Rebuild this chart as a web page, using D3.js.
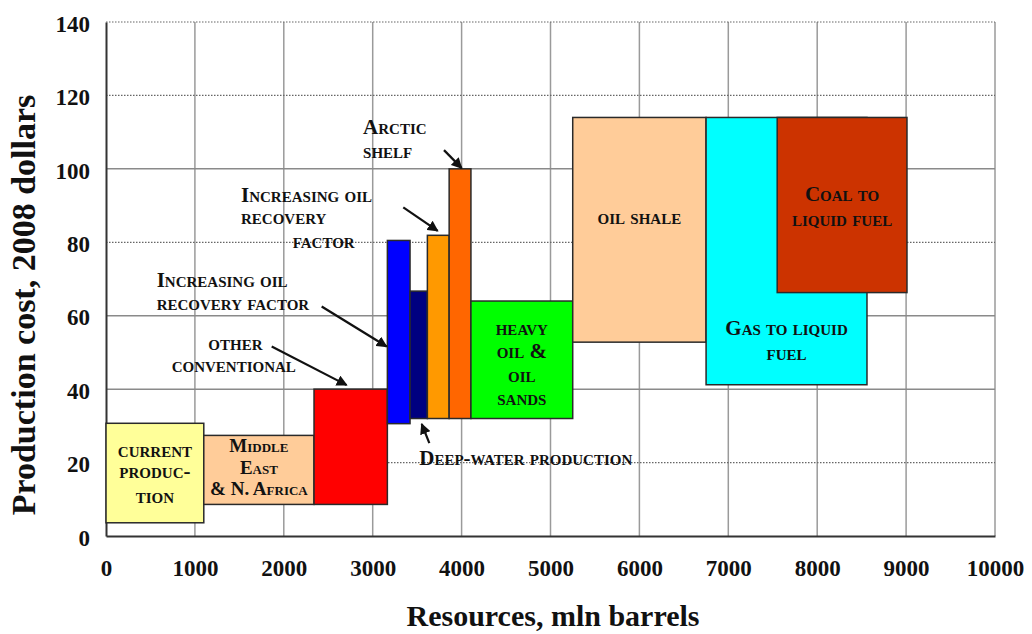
<!DOCTYPE html>
<html>
<head>
<meta charset="utf-8">
<script src="https://cdn.jsdelivr.net/npm/d3@7"></script>
<style>
html,body{margin:0;padding:0;background:#fff;}
svg{display:block;}
svg text{font-family:"Liberation Serif","Times New Roman",Times,"DejaVu Serif","Noto Serif",serif !important;font-weight:bold;fill:#111;}
.lbl{font-variant:small-caps;font-size:21px;}
</style>
</head>
<body>
<svg id="chart" width="1032" height="634" font-family="Liberation Serif"></svg>
<script>
// ---- data ----
const categories = ["Current production","Middle East & N. Africa","Other conventional","Increasing oil recovery factor","Deep-water production","Increasing oil recovery factor ","Arctic shelf","Heavy oil & oil sands","Oil shale","Gas to liquid fuel","Coal to liquid fuel"];
const resourceStart = [0, 1100, 2340, 3165, 3420, 3615, 3860, 4105, 5250, 6750, 7550];
const resourceEnd   = [1100, 2340, 3165, 3420, 3615, 3860, 4105, 5250, 6750, 8560, 9010];
const costLow  = [3.6, 8.6, 8.6, 30.6, 32, 32, 32, 32, 52.8, 41.2, 66.3];
const costHigh = [30.7, 27.4, 40, 80.5, 66.7, 81.9, 100, 64, 114, 114, 114];
const colors = ["#FFFF99","#FFCC99","#FF0000","#0000FF","#000080","#FF9900","#FF6600","#00FF00","#FFCC99","#00FFFF","#CC3300"];
const xTicks = [0,1000,2000,3000,4000,5000,6000,7000,8000,9000,10000];
const yTicks = [0,20,40,60,80,100,120,140];
const yDotted = [20,80,120,140];

// labels inside boxes: [box index, lines, baseline values (cost units), font size]
const boxLabels = [
  [0, ["current","produc-","tion"], [21.6,15.7,8.9], 21],
  [1, ["Middle","East","& N. Africa"], [23,16.9,11.2], 19],
  [7, ["heavy","oil &","oil","sands"], [54.8,48.4,42,35.7], 21],
  [8, ["oil shale"], [85], 21],
  [10, ["Coal to","liquid fuel"], [91.3,84.4], 21],
  [9, ["Gas to liquid","fuel"], [54.8,47.9], 21]
];
// free annotations: text, resource, cost (baseline, start anchored)
const noteText = ["Arctic","shelf","Increasing oil","recovery","factor","Increasing oil","recovery factor","other","conventional","Deep-water production"];
const noteRes  = [2892, 2892, 1519, 1519, 2100, 570, 570, 1151, 739, 3524];
const noteCost = [109.4, 102.9, 91.1, 84.9, 78.4, 67.9, 61.6, 50.7, 44.6, 19.3];
// arrows: from (res,cost) to (res,cost)
const arrowFrom = [[3802,105.1],[3344,89.5],[2426,62.5],[1864,51.6],[3637,25.3]];
const arrowTo   = [[4001,100.2],[3731,83.1],[3157,51.6],[2707,41.1],[3551,30.5]];

// ---- drawing ----
const svg = d3.select("#chart");
const x = d3.scaleLinear().domain([0,10000]).range([106,995]);
const y = d3.scaleLinear().domain([0,140]).range([536,22]);

// grid
const g = svg.append("g");
g.selectAll("line.vg").data(xTicks.slice(1)).join("line")
  .attr("x1",d=>x(d)).attr("x2",d=>x(d)).attr("y1",y(140)).attr("y2",y(0))
  .attr("stroke","#9a9a9a").attr("stroke-width",1.5);
g.selectAll("line.hg").data(yTicks.slice(1)).join("line")
  .attr("x1",x(0)).attr("x2",x(10000)).attr("y1",d=>y(d)).attr("y2",d=>y(d))
  .attr("stroke",d=>yDotted.includes(d)?"#666":"#8a8a8a")
  .attr("stroke-width",d=>yDotted.includes(d)?1.2:1.5)
  .attr("stroke-dasharray",d=>yDotted.includes(d)?"1.5,1.5":null);

// axes
const yAxis = d3.axisLeft(y).tickValues(yTicks).tickSize(0).tickPadding(16).tickFormat(d3.format("d"));
const xAxis = d3.axisBottom(x).tickValues(xTicks).tickSize(0).tickPadding(24).tickFormat(d3.format("d"));
const ya = svg.append("g").attr("transform",`translate(${x(0)},0)`).call(yAxis);
const xa = svg.append("g").attr("transform",`translate(0,${y(0)})`).call(xAxis);
[ya,xa].forEach(a=>{
  a.attr("font-family",null).attr("font-size",null);
  a.select(".domain").attr("stroke","#333").attr("stroke-width",2);
  a.selectAll("text").attr("font-size",23).attr("fill","#111");
});
ya.selectAll("text").attr("dy","0.4em");

// bars
const idx = d3.range(categories.length);
svg.append("g").selectAll("rect").data(idx).join("rect")
  .attr("x",i=>x(resourceStart[i])).attr("width",i=>x(resourceEnd[i])-x(resourceStart[i]))
  .attr("y",i=>y(costHigh[i])).attr("height",i=>y(costLow[i])-y(costHigh[i]))
  .attr("fill",i=>colors[i]).attr("stroke","#2a2a2a").attr("stroke-width",1.5);

// box labels
boxLabels.forEach(([i,lines,ys,fs])=>{
  const cx = (x(resourceStart[i])+x(resourceEnd[i]))/2;
  lines.forEach((t,k)=>{
    svg.append("text").attr("class","lbl").attr("x",cx).attr("y",y(ys[k]))
      .style("font-size",fs+"px").attr("text-anchor","middle").text(t);
  });
});

// notes
noteText.forEach((t,k)=>{
  svg.append("text").attr("class","lbl").attr("x",x(noteRes[k])).attr("y",y(noteCost[k])).text(t);
});

// arrows
svg.append("defs").append("marker").attr("id","ah").attr("viewBox","0 0 10 10")
  .attr("refX",9).attr("refY",5).attr("markerWidth",5).attr("markerHeight",5)
  .attr("orient","auto").append("path").attr("d","M0,0L10,5L0,10z").attr("fill","#111");
svg.append("g").selectAll("line").data(arrowFrom.map((f,i)=>[f,arrowTo[i]])).join("line")
  .attr("x1",d=>x(d[0][0])).attr("y1",d=>y(d[0][1]))
  .attr("x2",d=>x(d[1][0])).attr("y2",d=>y(d[1][1]))
  .attr("stroke","#111").attr("stroke-width",2.2).attr("marker-end","url(#ah)");

// titles
svg.append("text").attr("x",553).attr("y",626).attr("text-anchor","middle")
  .attr("font-size",30).text("Resources, mln barrels");
svg.append("text").attr("transform","translate(35,305) rotate(-90)").attr("text-anchor","middle")
  .attr("font-size",34).text("Production cost, 2008 dollars");
</script>
</body>
</html>
